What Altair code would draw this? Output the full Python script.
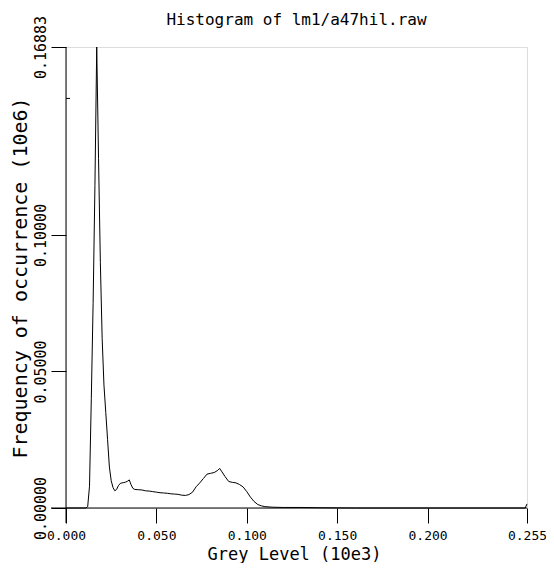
import altair as alt
import pandas as pd

FONT = "DejaVu Sans Mono"

title_text = "Histogram of lm1/a47hil.raw"
x_title = "Grey Level (10e3)"
y_title = "Frequency of occurrence (10e6)"

# grey levels (0..255) and frequencies (in units of 10e6)
levels = [0, 11, 12, 13, 14, 15, 16, 17, 18, 19, 20, 21, 22, 23, 24, 25, 26, 27,
          28, 29, 30, 31, 32, 33, 34, 35, 36, 37, 38, 40, 42, 44, 46, 48, 50, 52,
          54, 56, 58, 60, 62, 64, 66, 68, 70, 72, 74, 76, 78, 80, 82, 84, 85, 86,
          88, 90, 92, 94, 96, 98, 100, 102, 104, 106, 108, 110, 114, 120, 130,
          140, 150, 160, 254, 255]
freqs = [0.0, 0.0, 0.0005, 0.008, 0.040, 0.075, 0.118, 0.16883, 0.128, 0.090,
         0.062, 0.045, 0.035, 0.025, 0.015, 0.010, 0.0075, 0.0063, 0.0068,
         0.0082, 0.0090, 0.0092, 0.0093, 0.0095, 0.0098, 0.0103, 0.0085, 0.0072,
         0.0068, 0.0067, 0.0066, 0.0063, 0.0062, 0.0060, 0.0058, 0.0056, 0.0055,
         0.0054, 0.0052, 0.0051, 0.0050, 0.0047, 0.0046, 0.0049, 0.0058, 0.0078,
         0.0092, 0.0108, 0.0124, 0.0127, 0.0130, 0.0138, 0.0145, 0.0135, 0.0115,
         0.0097, 0.0094, 0.0092, 0.0086, 0.0077, 0.0060, 0.0040, 0.0024, 0.0013,
         0.0008, 0.0005, 0.0003, 0.0002, 0.0002, 0.0001, 0.00005, 0.0, 0.0,
         0.0015]

x_ticks = [0.0, 0.05, 0.10, 0.15, 0.20, 0.255]
y_ticks = [0.0, 0.05, 0.10, 0.16883]
y_minor = [0.15]

df = pd.DataFrame({"grey": [l / 1000 for l in levels], "freq": freqs})

W, H = 461, 461

xscale = alt.Scale(domain=[0, 0.255], nice=False, zero=False)
yscale = alt.Scale(domain=[0, 0.16883], nice=False, zero=False)

common_axis = dict(
    grid=False, domain=False, tickSize=15, tickColor="black", tickWidth=1,
    labelFont=FONT, labelColor="black", labelOverlap=False,
    labelFlush=False, titleFont=FONT, titleFontWeight="normal",
    titleColor="black",
)

line = alt.Chart(df).mark_line(color="black", strokeWidth=1).encode(
    x=alt.X("grey:Q", scale=xscale,
            axis=alt.Axis(values=x_ticks, format=".3f", title=x_title,
                          labelFontSize=13,
                          labelBaseline="middle", labelPadding=12,
                          titleFontSize=17,
                          titleX=228, titleY=46, titleBaseline="middle",
                          titleAlign="center", **common_axis)),
    y=alt.Y("freq:Q", scale=yscale,
            axis=alt.Axis(values=y_ticks, format=".5f", title=y_title,
                          labelFontSize=15,
                          labelAngle=270, labelAlign="center",
                          labelBaseline="middle", labelPadding=11,
                          titleFontSize=20,
                          titleX=-46, titleY=230.5, titleAngle=270,
                          titleAlign="center", titleBaseline="middle",
                          **common_axis)),
)

one = alt.Data(values=[{"a": 1}])
x_axis_line = alt.Chart(one).mark_rule(color="black", strokeWidth=1).encode(
    x=alt.value(-15), x2=alt.value(W), y=alt.value(H))
y_axis_line = alt.Chart(one).mark_rule(color="black", strokeWidth=1).encode(
    x=alt.value(0), y=alt.value(0), y2=alt.value(H + 15))
minor = alt.Chart(pd.DataFrame({"v": y_minor})).mark_rule(
    color="black", strokeWidth=1).encode(
    y=alt.Y("v:Q", scale=yscale), x=alt.value(0), x2=alt.value(4))
title_mark = alt.Chart(alt.Data(values=[{"t": title_text}])).mark_text(
    font=FONT, fontSize=16, color="black", align="center",
    baseline="alphabetic").encode(
    text="t:N", x=alt.value(230.5), y=alt.value(-22))

chart = alt.layer(line, x_axis_line, y_axis_line, minor, title_mark).properties(
    width=W, height=H,
    autosize=alt.AutoSizeParams(type="none"),
    padding={"left": 58, "top": 39, "right": 19, "bottom": 55},
).configure_view(stroke=None).configure(background="white")

chart.save("out.html", embed_options={"renderer": "svg", "actions": False})
